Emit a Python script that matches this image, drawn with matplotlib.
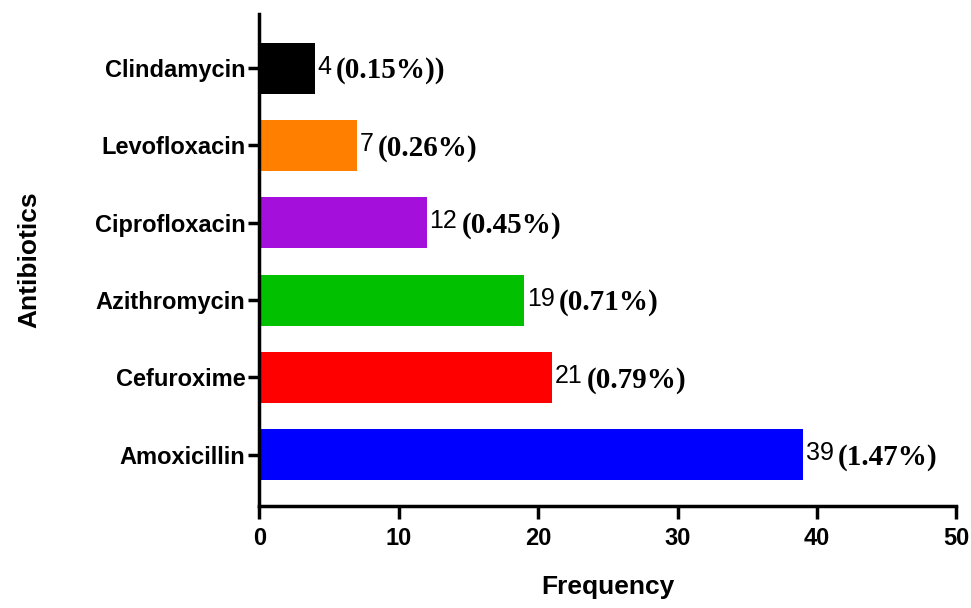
import matplotlib.pyplot as plt

antibiotics = ['Amoxicillin', 'Cefuroxime', 'Azithromycin', 'Ciprofloxacin', 'Levofloxacin', 'Clindamycin']
frequency = [39, 21, 19, 12, 7, 4]
percent_labels = ['(1.47%)', '(0.79%)', '(0.71%)', '(0.45%)', '(0.26%)', '(0.15%))']
colors = ['#0000FF', '#FF0000', '#00C000', '#A50FDC', '#FF7F00', '#000000']

fig = plt.figure(figsize=(9.71, 6.08), dpi=100)
ax = fig.add_axes([0.267, 0.168, 0.718, 0.809])

pos = list(range(len(antibiotics)))
ax.barh(pos, frequency, height=0.66, color=colors)

# count in sans, percentage in bold serif
for y, v, p in zip(pos, frequency, percent_labels):
    t = ax.annotate(str(v), (v, y), xytext=(2, 1), textcoords='offset points',
                    ha='left', va='center', fontsize=18, family='Liberation Sans')
    ax.annotate(p, xy=(1, 0.5), xycoords=t, xytext=(3, -3), textcoords='offset points',
                ha='left', va='center', fontsize=21, fontweight='bold',
                family='Liberation Serif')

ax.set_xlim(0, 50)
ax.set_ylim(-0.66, 5.7)
ax.set_xticks([0, 10, 20, 30, 40, 50])
ax.set_yticks(pos)
ax.set_yticklabels(antibiotics)

for lab in ax.get_xticklabels() + ax.get_yticklabels():
    lab.set_fontweight('bold')
    lab.set_fontsize(17)
    lab.set_family('Liberation Sans')

ax.spines['top'].set_visible(False)
ax.spines['right'].set_visible(False)
ax.spines['left'].set_linewidth(2.5)
ax.spines['bottom'].set_linewidth(2.5)
ax.tick_params(axis='x', length=9, width=2.5, pad=6)
ax.tick_params(axis='y', length=8, width=2.5, pad=2)

ax.set_xlabel('Frequency', fontsize=19, fontweight='bold', family='Liberation Sans', labelpad=18)
ax.set_ylabel('Antibiotics', fontsize=19, fontweight='bold', family='Liberation Sans', labelpad=38)

fig.savefig('out.png', dpi=100)
